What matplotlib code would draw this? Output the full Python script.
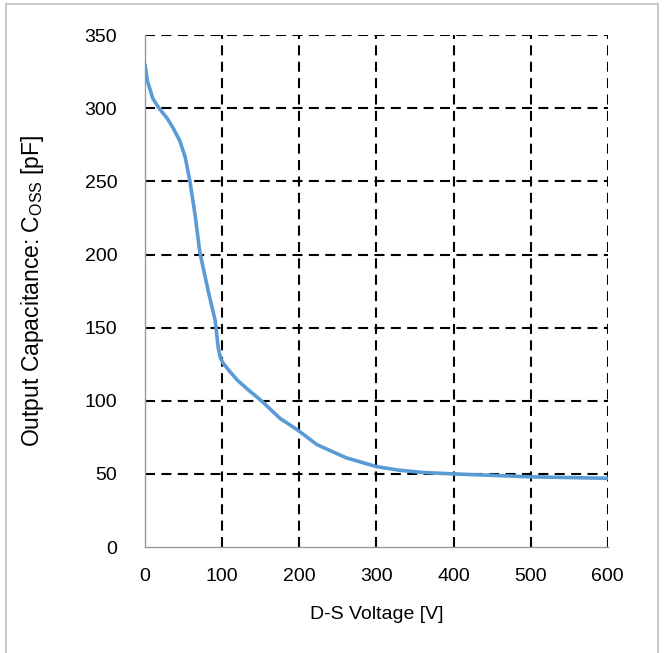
import matplotlib
matplotlib.use("Agg")
import matplotlib.pyplot as plt
from matplotlib.patches import Rectangle

# Coss vs drain-source voltage
vds = [0, 3, 10, 17, 23, 29, 36, 45, 52, 58, 65, 71, 82, 91, 95, 98, 101, 110,
       120, 135, 151, 175, 198, 223, 261, 300, 330, 360, 400, 450, 500, 550, 600]
coss = [330, 319, 307, 301, 297, 293, 287, 278, 267, 251, 227, 202, 175, 155,
        136, 129, 126, 120, 114, 107, 100, 88, 80, 70, 61, 55, 52.5, 51, 50, 49,
        48, 47.5, 47]

x_ticks = [0, 100, 200, 300, 400, 500, 600]
y_ticks = [0, 50, 100, 150, 200, 250, 300, 350]

plt.rcParams["font.family"] = ["Liberation Sans", "DejaVu Sans"]
plt.rcParams["font.size"] = 14
plt.rcParams["lines.scale_dashes"] = False

fig = plt.figure(figsize=(6.65, 6.53), dpi=100)
ax = fig.add_axes([0.218, 0.1623, 0.696, 0.7837])

# light gray frame round the whole chart
fig.patches.append(Rectangle((6 / 665, -0.05), 652 / 665, 1.05 - 4 / 653,
                             transform=fig.transFigure, fill=False,
                             edgecolor="#bfbfbf", linewidth=1.2))

for v in x_ticks[1:]:
    ax.axvline(v, color="black", linewidth=1.5, linestyle=(0, (7.2, 4.6)), zorder=1)
for c in y_ticks[1:]:
    ax.axhline(c, color="black", linewidth=1.5, linestyle=(0, (7.2, 4.6)), zorder=1)

ax.plot(vds, coss, color="#5b9bd5", linewidth=2.6, zorder=3,
        solid_joinstyle="round", solid_capstyle="round")

ax.set_xlim(0, 600)
ax.set_ylim(0, 350)
ax.set_xticks(x_ticks)
ax.set_yticks(y_ticks)
ax.tick_params(length=0)
ax.tick_params(axis="y", pad=20)
ax.tick_params(axis="x", pad=15)
for side in ["top", "right"]:
    ax.spines[side].set_visible(False)
for side in ["left", "bottom"]:
    ax.spines[side].set_color("#999999")
    ax.spines[side].set_linewidth(1.0)

ax.set_xlabel("D-S Voltage [V]", labelpad=15)
ax.set_ylabel(r"Output Capacitance: C$_\mathregular{OSS}$ [pF]", fontsize=16.5,
              labelpad=28)

fig.savefig("out.png", dpi=100)
